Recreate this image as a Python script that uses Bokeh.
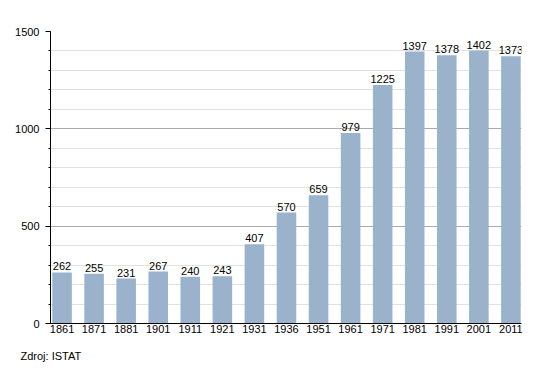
from bokeh.plotting import figure
from bokeh.models import Range1d, FixedTicker, SingleIntervalTicker, ColumnDataSource, Title
from bokeh.embed import file_html
from bokeh.resources import INLINE

years = ["1861", "1871", "1881", "1901", "1911", "1921", "1931", "1936",
         "1951", "1961", "1971", "1981", "1991", "2001", "2011"]
population = [262, 255, 231, 267, 240, 243, 407, 570, 659, 979, 1225, 1397, 1378, 1402, 1373]
y_ticks_interval = 500
source_text = "Zdroj: ISTAT"

FONT = "Liberation Sans"
xs = list(range(len(years)))
src = ColumnDataSource(dict(x=xs, top=population, label=[str(v) for v in population]))

p = figure(width=550, height=373, output_backend="svg", toolbar_location=None,
           x_range=Range1d(-0.36, 14.33), y_range=Range1d(0, 1500),
           min_border_left=50, min_border_top=31, min_border_right=29, min_border_bottom=49)
p.outline_line_color = None
p.background_fill_color = "white"
p.border_fill_color = "white"

p.vbar(x="x", top="top", width=0.61, bottom=0, source=src,
       fill_color="#9ab2cc", line_color=None)
p.text(x="x", y="top", text="label", source=src, text_align="center",
       text_baseline="bottom", y_offset=-2, text_font_size="11px",
       text_font={"value": FONT}, text_color="black")

# x axis
p.xaxis.ticker = FixedTicker(ticks=xs)
p.xaxis.major_label_overrides = {i: y for i, y in enumerate(years)}
p.xaxis.major_tick_line_color = None
p.xaxis.major_tick_out = 0
p.xaxis.major_tick_in = 0
p.xaxis.minor_tick_line_color = None
p.xaxis.minor_tick_out = 0
p.xaxis.axis_line_color = "black"
p.xaxis.major_label_standoff = 1
p.xaxis.major_label_text_font = FONT
p.xaxis.major_label_text_font_size = "11px"
p.xaxis.major_label_text_color = "black"
p.xgrid.grid_line_color = None

# y axis
p.yaxis.ticker = SingleIntervalTicker(interval=y_ticks_interval, num_minor_ticks=5)
p.yaxis.axis_line_color = "black"
p.yaxis.major_tick_line_color = "black"
p.yaxis.major_tick_out = 5
p.yaxis.major_tick_in = 0
p.yaxis.minor_tick_line_color = "black"
p.yaxis.minor_tick_out = 2
p.yaxis.minor_tick_in = 0
p.yaxis.major_label_standoff = 6
p.yaxis.major_label_text_font = FONT
p.yaxis.major_label_text_font_size = "11px"
p.yaxis.major_label_text_color = "black"
p.ygrid.ticker = SingleIntervalTicker(interval=y_ticks_interval, num_minor_ticks=5)
p.ygrid.grid_line_color = "#aaaaaa"
p.ygrid.minor_grid_line_color = "#e2e2e2"

p.add_layout(Title(text=source_text, align="left", offset=-30, standoff=24,
                   text_font=FONT, text_font_size="11px", text_font_style="normal",
                   text_color="black"), "below")

open("out.html", "w").write(file_html(p, INLINE))
